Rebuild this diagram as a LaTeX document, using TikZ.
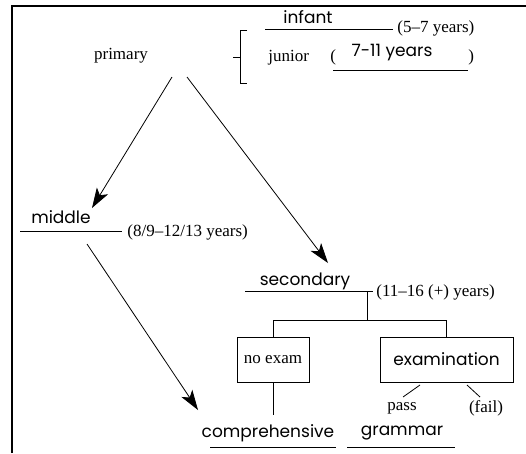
\documentclass[tikz,border=0pt]{standalone}
\usepackage{fontspec}
\setmainfont{Liberation Serif}
\newfontfamily\handfont{Poppins}
\usetikzlibrary{arrows.meta}
\begin{document}
\begin{tikzpicture}[x=1pt, y=-1pt, line width=0.8pt,
		lbl/.style={font=\fontsize{17}{19}\selectfont, inner sep=0pt},
		hw/.style={font=\handfont\fontsize{17}{19}\selectfont, inner sep=0pt},
		box/.style={draw, minimum height=45pt, inner sep=0pt},
		arr/.style={-{Stealth[length=20pt, width=13pt, inset=5pt]}}]
	\useasboundingbox (0,0) rectangle (526,453);
	% Rahmen
	\draw[line width=1.8pt] (12,453) -- (12,6) -- (526,6);
	
	% primary mit Klammer
	\node[lbl] (primary) at (121,56) {primary};
	\draw (247,30) -- (240,30) -- (240,83) -- (247,83);
	\draw (240,57) -- (233,57);
	\node[hw] (infant) at (308,17) {infant};
	\draw (265,29) -- (393,29);
	\node[lbl, anchor=base west] (infyears) at (397,32) {(5--7 years)};
	\node[lbl, anchor=base west] (junior) at (268,61) {junior};
	\node[lbl, anchor=base west] (jopen) at (330,61) {(};
	\node[hw] (junyears) at (392,53) {7-11 years};
	\draw (333,70) -- (468,70);
	\node[lbl, anchor=base west] (jclose) at (468,61) {)};
	
	% middle
	\node[hw] (middle) at (61,217) {middle};
	\draw (20,231) -- (122,231);
	\node[lbl, anchor=west] (midyears) at (127,232) {(8/9--12/13 years)};
	
	% secondary
	\node[hw] (secondary) at (305,281) {secondary};
	\draw (245,291) -- (373,291);
	\node[lbl, anchor=west] (secyears) at (376,292) {(11--16 (+) years)};
	
	% Pfeile
	\coordinate (p-l) at (172,77);
	\coordinate (p-r) at (187,77);
	\coordinate (m-out) at (87,244);
	\draw[arr] (p-l) -- (92,208);
	\draw[arr] (p-r) -- (328,263);
	\draw[arr] (m-out) -- (198,410);
	
	% Verzweigung
	\node[box, minimum width=72pt, lbl, draw] (noexam) at (273,359.5) {no exam};
	\node[box, minimum width=133pt, hw, draw] (exam) at (446.5,359.5) {examination};
	\draw (367,291) -- (367,321);
	\draw (noexam.north) -- ++(0,-16) -| (exam.north);
	\draw (noexam.south) -- ++(0,33);
	
	\node[lbl] (pass) at (402,408) {pass};
	\node[lbl] (fail) at (486,408) {(fail)};
	\draw (420,385) -- (403,397);
	\draw (467,385) -- (480,397);
	
	% Schulformen
	\node[hw] (comp) at (268,433) {comprehensive};
	\draw (210,447) -- (336,447);
	\node[hw] (grammar) at (402,433) {grammar};
	\draw (347,447) -- (455,447);
\end{tikzpicture}
\end{document}
